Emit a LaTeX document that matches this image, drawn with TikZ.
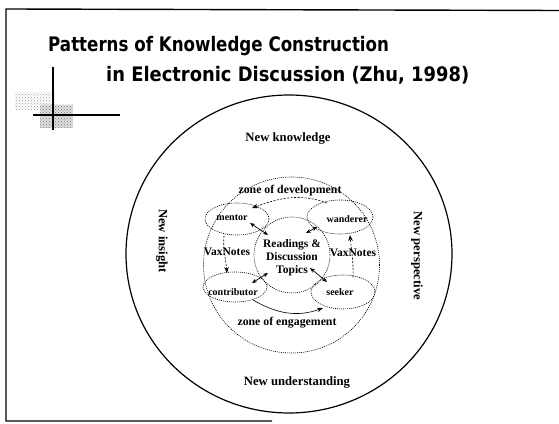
\documentclass[tikz,border=0pt]{standalone}
\usepackage{fontspec}
\usepackage{graphicx}
\setmainfont{Liberation Serif}
\newfontfamily\titlefont{DejaVu Sans}
\usetikzlibrary{shapes.geometric,arrows.meta,patterns}
\begin{document}
\begin{tikzpicture}[x=1pt,y=1pt,
  frameline/.style={line width=1.4pt,black},
  crossline/.style={line width=1.1pt,black},
  outerring/.style={draw,line width=1.2pt},
  dotring/.style={draw,line width=0.6pt,dash pattern=on 1pt off 1pt},
  rolebox/.style={ellipse,dotring,inner sep=0pt},
  biglabel/.style={font=\bfseries\fontsize{12.7}{14}\selectfont,inner sep=0pt},
  zonelabel/.style={font=\bfseries\fontsize{11.8}{13}\selectfont,inner sep=0pt},
  notelabel/.style={font=\bfseries\fontsize{11.5}{13}\selectfont,inner sep=0pt},
  rolelabel/.style={font=\bfseries\fontsize{10}{12}\selectfont,inner sep=0pt},
  titletext/.style={anchor=base west,inner sep=0pt,font=\titlefont\bfseries\fontsize{20}{24}\selectfont},
  flow/.style={line width=0.6pt,dash pattern=on 2pt off 1.5pt,-{Stealth[length=6pt,width=4.5pt]}},
  flowsolid/.style={line width=0.6pt,-{Stealth[length=6pt,width=4.5pt]}},
  biarrow/.style={line width=0.7pt,{Stealth[length=5pt,width=4pt]}-{Stealth[length=5pt,width=4pt]}}
]
\useasboundingbox (0,0) rectangle (559,423);
% frame
\coordinate (ftl) at (6,414);
\coordinate (ftr) at (559,412.5);
\coordinate (fbl) at (6,2);
\coordinate (fbr) at (272,2);
\draw[frameline] (ftr) -- (ftl) -- (fbl) -- (fbr);
% decoration
\fill[pattern=crosshatch dots,pattern color=gray!80] (15,313) rectangle (55,330);
\fill[gray!25] (40,295) rectangle (73,318);
\fill[pattern=crosshatch dots,pattern color=gray!90!black] (40,295) rectangle (73,318);
\coordinate (vt) at (53,356);
\coordinate (vb) at (53,293);
\coordinate (hl) at (33,308);
\coordinate (hr) at (120,308);
\draw[crossline] (vt) -- (vb);
\draw[crossline] (hl) -- (hr);
% title
\node[titletext] (t1) at (48,371) {\scalebox{0.834}[1]{Patterns of Knowledge Construction}};
\node[titletext] (t2) at (106,341) {\scalebox{0.895}[1]{in Electronic Discussion (Zhu, 1998)}};
% rings
\node[ellipse,outerring,minimum width=326pt,minimum height=318pt,inner sep=0pt] (outer) at (289,169) {};
\node[circle,dotring,minimum size=176pt,inner sep=0pt] (zone) at (291.5,158) {};
\node[circle,dotring,minimum size=76pt,inner sep=0pt] (c) at (292,168) {};
\node[notelabel,align=center] (ctext) at (292,165.5) {\fontsize{11.5}{12.5}\selectfont Readings \&\\Discussion\\Topics};
% outer labels
\node[biglabel] (nk) at (288,285) {New knowledge};
\node[biglabel] (nu) at (297,41) {New understanding};
\node[biglabel,rotate=-90] (ni) at (162,182) {New insight};
\node[biglabel,rotate=-90] (np) at (417,167) {New perspective};
% zone labels
\node[zonelabel] (zd) at (290,232) {zone of development};
\node[zonelabel] (ze) at (287,100) {zone of engagement};
\node[notelabel] (vl) at (227,171) {VaxNotes};
\node[notelabel] (vr) at (353,170) {VaxNotes};
% role ellipses
\node[rolebox,minimum width=64pt,minimum height=32pt] (m) at (237,204) {};
\node[rolebox,minimum width=66pt,minimum height=34pt] (w) at (340,206) {};
\node[rolebox,minimum width=64pt,minimum height=30pt] (co) at (235,136) {};
\node[rolebox,minimum width=64pt,minimum height=34pt] (s) at (343,131) {};
\node[rolelabel] (mt) at (232,205) {mentor};
\node[rolelabel] (wt) at (347,204) {wanderer};
\node[rolelabel] (cot) at (233,131) {contributor};
\node[rolelabel] (st) at (340,131) {seeker};
% cycle arrows
\draw[flow] ([shift={(-13,14)}]w.center) to[out=160,in=20] ([shift={(15,11)}]m.center);
\draw[flow] ([shift={(-13,-17)}]m.center) to[out=-95,in=95] ([shift={(-8,14)}]co.center);
\draw[flowsolid] ([shift={(18,-13)}]co.center) to[out=-30,in=200] ([shift={(-20,-16)}]s.center);
\draw[flow] ([shift={(10,15)}]s.center) to[out=88,in=-85] ([shift={(10,-18)}]w.center);
% radial arrows
\draw[biarrow] ([shift={(13,-4)}]m.center) -- ([shift={(-24,20)}]c.center);
\draw[biarrow] ([shift={(-23,-10)}]w.center) -- ([shift={(14,22)}]c.center);
\draw[biarrow] ([shift={(17,4)}]co.center) -- ([shift={(-24,-18)}]c.center);
\draw[biarrow] ([shift={(-16,10)}]s.center) -- ([shift={(18,-13)}]c.center);
\end{tikzpicture}
\end{document}
